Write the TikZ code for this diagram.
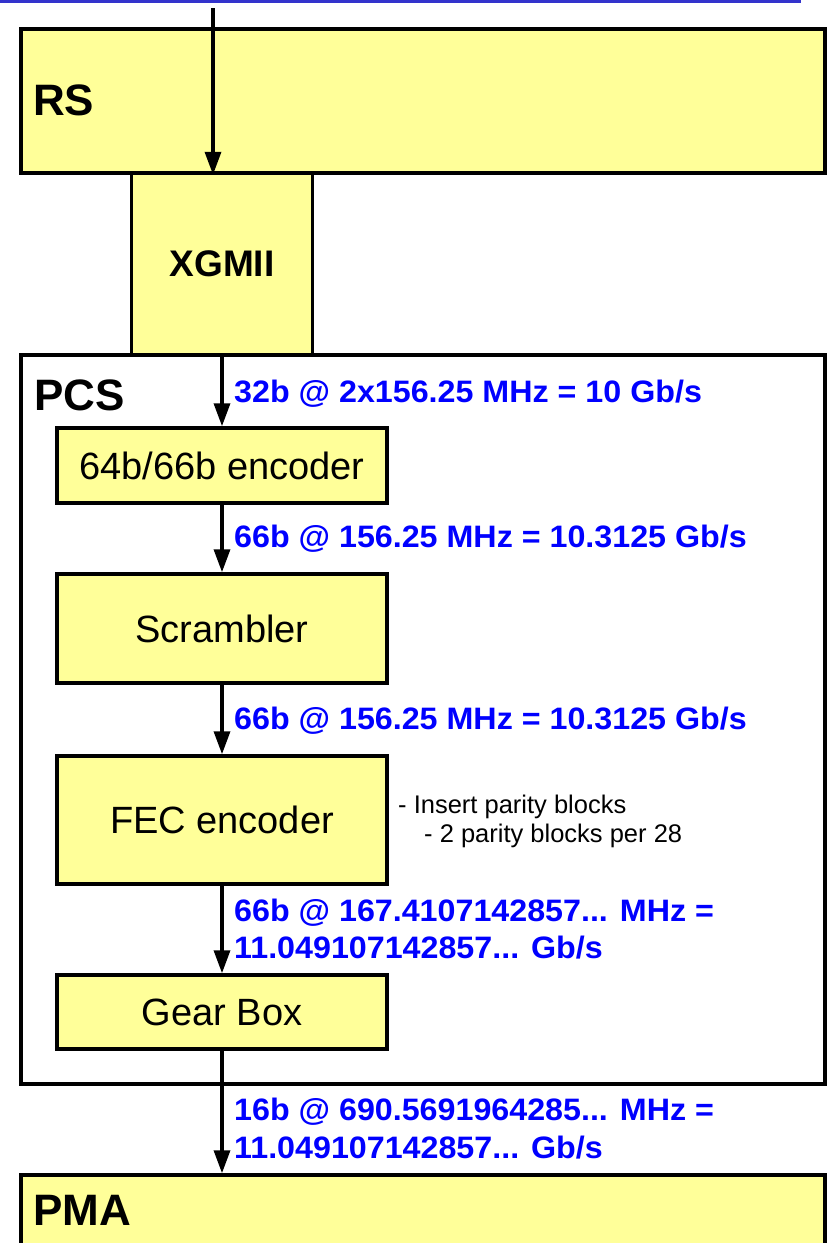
\documentclass[tikz,border=0pt]{standalone}
\usepackage{fontspec}
\setmainfont{Liberation Sans}
\newfontfamily\lblfont{Liberation Sans}[FakeStretch=1.04]
\usetikzlibrary{arrows.meta}
\definecolor{boxyellow}{HTML}{FFFF99}
\definecolor{topblue}{HTML}{3333CC}
\definecolor{lblblue}{HTML}{0000FF}
\begin{document}
\begin{tikzpicture}[x=1pt,y=-1pt,
  blk/.style={draw=black, line width=3.5pt, fill=boxyellow, rectangle, inner sep=0pt,
    font=\fontsize{38}{44}\selectfont},
  arr/.style={line width=3.5pt, -{Triangle[length=23pt,width=16pt]}},
  title/.style={anchor=base west, inner sep=0pt, font=\fontsize{44}{50}\selectfont\bfseries},
  rate/.style={anchor=base west, inner sep=0pt, text=lblblue,
    font=\lblfont\fontsize{31}{37}\selectfont\bfseries},
  note/.style={anchor=base west, inner sep=0pt, font=\fontsize{25.5}{29}\selectfont}]
\useasboundingbox (0,0) rectangle (827,1243);
\clip (0,0) rectangle (827,1243);
% top rule
\coordinate (ruleL) at (0,1);
\coordinate (ruleR) at (801,1);
\draw[topblue, line width=3pt] (ruleL) -- (ruleR);
% layers
\node[blk, fill=white, minimum width=804pt, minimum height=729pt] (PCS) at (423,719.5) {};
\node[blk, minimum width=181pt, minimum height=182pt,
  font=\fontsize{37}{44}\selectfont\bfseries] (XGMII) at (222,264) {XGMII};
\node[blk, minimum width=804pt, minimum height=144pt] (RS) at (423,101) {};
\node[blk, minimum width=804pt, minimum height=125pt] (PMA) at (423,1237.5) {};
\node[title] (RSt) at (33,115) {RS};
\node[title] (PCSt) at (34,410) {PCS};
\node[title] (PMAt) at (33,1225) {PMA};
% PCS blocks
\node[blk, minimum width=330pt, minimum height=75pt] (enc) at (222,465.5) {64b/66b encoder};
\node[blk, minimum width=330pt, minimum height=109pt] (scr) at (222,628.5) {Scrambler};
\node[blk, minimum width=330pt, minimum height=128pt] (fec) at (222,820) {FEC encoder};
\node[blk, minimum width=330pt, minimum height=74pt] (gear) at (222,1012) {Gear Box};
% arrows
\coordinate (in) at (213,8);
\draw[arr] (in) -- (in |- RS.south);
\draw[arr] (XGMII.south) -- (enc.north);
\draw[arr] (enc.south) -- (scr.north);
\draw[arr] (scr.south) -- (fec.north);
\draw[arr] (fec.south) -- (gear.north);
\draw[arr] (gear.south) -- (gear.south |- PMA.north);
% rate labels
\node[rate] (r1) at (234,402) {32b @ 2x156.25 MHz = 10 Gb/s};
\node[rate] (r2) at (234,547) {66b @ 156.25 MHz = 10.3125 Gb/s};
\node[rate] (r3) at (234,729) {66b @ 156.25 MHz = 10.3125 Gb/s};
\node[rate] (r4a) at (234,921) {66b @ 167.4107142857... MHz =};
\node[rate] (r4b) at (234,958) {11.049107142857... Gb/s};
\node[rate] (r5a) at (234,1120) {16b @ 690.5691964285... MHz =};
\node[rate] (r5b) at (234,1158) {11.049107142857... Gb/s};
% notes
\node[note] (n1) at (398,813) {- Insert parity blocks};
\node[note] (n2) at (424,842) {- 2 parity blocks per 28};
\end{tikzpicture}
\end{document}
